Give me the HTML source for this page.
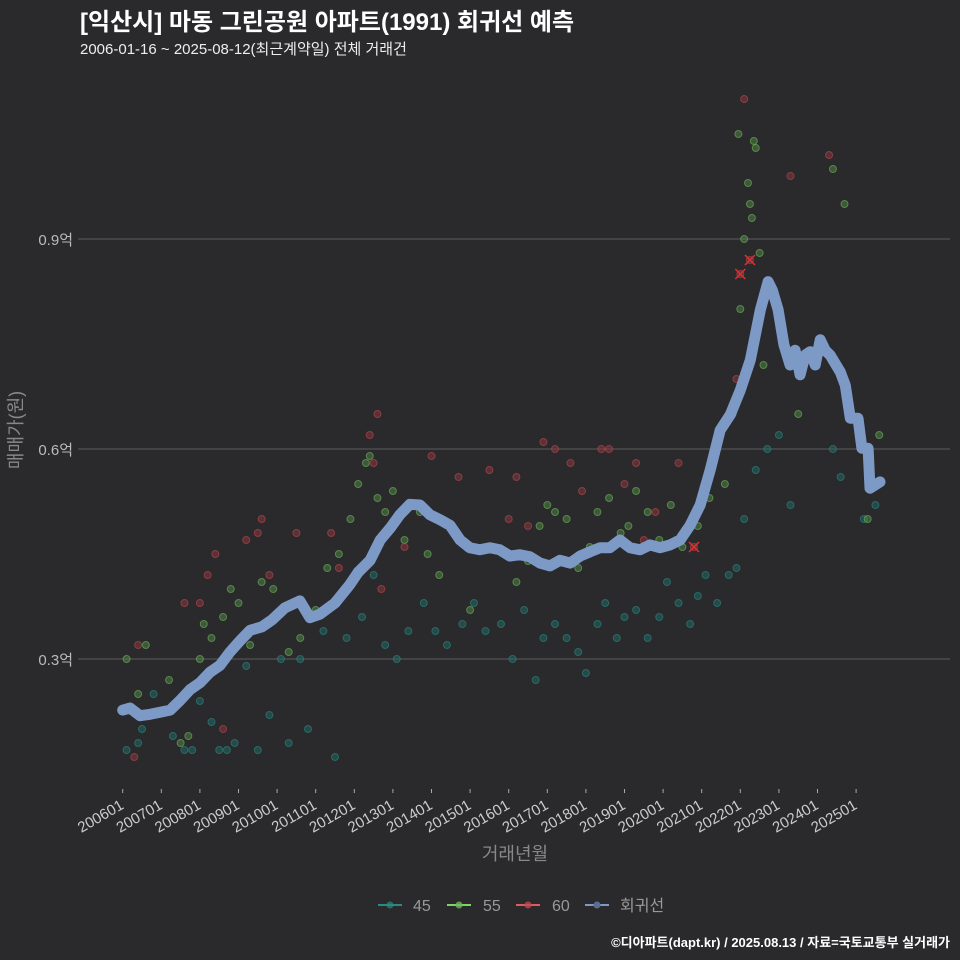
<!DOCTYPE html>
<html><head><meta charset="utf-8"><style>
body{margin:0;background:#2a292c;}
svg{display:block;font-family:"Liberation Sans","Noto Sans CJK KR",sans-serif;}
</style></head><body>
<svg id="chart" width="960" height="960" viewBox="0 0 960 960">
<rect width="960" height="960" fill="#2a292c"/>
<text x="80" y="30" fill="#fff" font-size="24" font-weight="bold">[익산시] 마동 그린공원 아파트(1991) 회귀선 예측</text>
<text x="80" y="54" fill="#eee" font-size="15">2006-01-16 ~ 2025-08-12(최근계약일) 전체 거래건</text>
<g id="grid"></g>
<g id="pts"></g>
<g id="trend"></g>
<g id="xaxis"></g>
<text transform="translate(22,430) rotate(-90)" text-anchor="middle" fill="#888" font-size="18">매매가(원)</text>
<text x="515" y="860" text-anchor="middle" fill="#888" font-size="18">거래년월</text>
<g>
<g><line x1="378" y1="905" x2="402" y2="905" stroke="#2a8a82" stroke-width="2"/><circle cx="390" cy="905" r="3.5" fill="#2a8a82" opacity="0.7"/><text x="413" y="911" fill="#999" font-size="16">45</text></g>
<g><line x1="447" y1="905" x2="471" y2="905" stroke="#7ed36a" stroke-width="2"/><circle cx="459" cy="905" r="3.5" fill="#6fb85a" opacity="0.8"/><text x="483" y="911" fill="#999" font-size="16">55</text></g>
<g><line x1="516" y1="905" x2="540" y2="905" stroke="#e05a60" stroke-width="2"/><circle cx="528" cy="905" r="3.5" fill="#c04850" opacity="0.8"/><text x="552" y="911" fill="#999" font-size="16">60</text></g>
<g><line x1="585" y1="905" x2="609" y2="905" stroke="#7d9ac6" stroke-width="2"/><circle cx="597" cy="905" r="3.5" fill="#5a6e90"/><text x="620" y="911" fill="#999" font-size="16">회귀선</text></g>
</g>
<text x="950" y="947" text-anchor="end" fill="#fff" font-size="13" font-weight="bold">©디아파트(dapt.kr) / 2025.08.13 / 자료=국토교통부 실거래가</text>
</svg>
<script>
const yTicks=[0.3,0.6,0.9];
const xTickYears=[2006,2007,2008,2009,2010,2011,2012,2013,2014,2015,2016,2017,2018,2019,2020,2021,2022,2023,2024,2025];
const trendX=[2006.0,2006.19,2006.45,2006.71,2006.97,2007.23,2007.49,2007.74,2008.0,2008.26,2008.52,2008.78,2009.04,2009.3,2009.61,2009.87,2010.2,2010.59,2010.85,2011.11,2011.5,2011.88,2012.1,2012.41,2012.67,2012.93,2013.18,2013.44,2013.7,2013.96,2014.22,2014.48,2014.74,2014.99,2015.25,2015.51,2015.77,2016.03,2016.29,2016.55,2016.81,2017.07,2017.33,2017.59,2017.85,2018.1,2018.37,2018.62,2018.88,2019.14,2019.4,2019.66,2019.92,2020.18,2020.44,2020.7,2020.96,2021.22,2021.48,2021.74,2022.0,2022.26,2022.52,2022.72,2022.83,2022.98,2023.13,2023.29,2023.42,2023.55,2023.68,2023.81,2023.94,2024.07,2024.2,2024.33,2024.59,2024.72,2024.85,2025.05,2025.15,2025.31,2025.36,2025.62];
const trendV=[0.227,0.23,0.219,0.221,0.224,0.227,0.241,0.256,0.266,0.281,0.291,0.31,0.326,0.341,0.346,0.356,0.373,0.383,0.359,0.364,0.38,0.406,0.424,0.441,0.47,0.487,0.506,0.521,0.52,0.506,0.499,0.491,0.47,0.459,0.456,0.459,0.456,0.447,0.449,0.446,0.437,0.433,0.441,0.437,0.447,0.453,0.459,0.459,0.47,0.459,0.456,0.463,0.459,0.463,0.47,0.491,0.52,0.57,0.627,0.649,0.684,0.727,0.799,0.839,0.827,0.799,0.749,0.72,0.741,0.706,0.734,0.739,0.72,0.756,0.741,0.734,0.71,0.691,0.644,0.644,0.601,0.601,0.544,0.553];
const s45=[[2006.1,0.17],[2006.4,0.18],[2006.5,0.2],[2006.8,0.25],[2007.3,0.19],[2007.6,0.17],[2007.8,0.17],[2008.0,0.24],[2008.3,0.21],[2008.5,0.17],[2008.7,0.17],[2008.9,0.18],[2009.2,0.29],[2009.5,0.17],[2009.8,0.22],[2010.1,0.3],[2010.3,0.18],[2010.6,0.3],[2010.8,0.2],[2011.2,0.34],[2011.5,0.16],[2011.8,0.33],[2012.2,0.36],[2012.5,0.42],[2012.8,0.32],[2013.1,0.3],[2013.4,0.34],[2013.8,0.38],[2014.1,0.34],[2014.4,0.32],[2014.8,0.35],[2015.1,0.38],[2015.4,0.34],[2015.8,0.35],[2016.1,0.3],[2016.4,0.37],[2016.7,0.27],[2016.9,0.33],[2017.2,0.35],[2017.5,0.33],[2017.8,0.31],[2018.0,0.28],[2018.3,0.35],[2018.5,0.38],[2018.8,0.33],[2019.0,0.36],[2019.3,0.37],[2019.6,0.33],[2019.9,0.36],[2020.1,0.41],[2020.4,0.38],[2020.7,0.35],[2020.9,0.39],[2021.1,0.42],[2021.4,0.38],[2021.7,0.42],[2021.9,0.43],[2022.1,0.5],[2022.4,0.57],[2022.7,0.6],[2023.0,0.62],[2023.3,0.52],[2024.4,0.6],[2024.6,0.56],[2025.2,0.5],[2025.5,0.52]];
const s55=[[2006.1,0.3],[2006.4,0.25],[2006.6,0.32],[2007.2,0.27],[2007.5,0.18],[2007.7,0.19],[2008.0,0.3],[2008.1,0.35],[2008.3,0.33],[2008.6,0.36],[2008.8,0.4],[2009.0,0.38],[2009.3,0.32],[2009.6,0.41],[2009.9,0.4],[2010.3,0.31],[2010.6,0.33],[2011.0,0.37],[2011.3,0.43],[2011.6,0.45],[2011.9,0.5],[2012.1,0.55],[2012.3,0.58],[2012.4,0.59],[2012.6,0.53],[2012.8,0.51],[2013.0,0.54],[2013.3,0.47],[2013.7,0.51],[2013.9,0.45],[2014.2,0.42],[2015.0,0.37],[2016.2,0.41],[2016.5,0.44],[2016.8,0.49],[2017.0,0.52],[2017.2,0.51],[2017.5,0.5],[2017.8,0.43],[2018.1,0.46],[2018.3,0.51],[2018.6,0.53],[2018.9,0.48],[2019.1,0.49],[2019.3,0.54],[2019.6,0.51],[2019.9,0.47],[2020.2,0.52],[2020.5,0.46],[2020.9,0.49],[2021.2,0.53],[2021.4,0.6],[2021.6,0.55],[2021.8,0.65],[2022.0,0.8],[2022.1,0.9],[2022.2,0.98],[2022.25,0.95],[2022.3,0.93],[2022.35,1.04],[2022.5,0.88],[2022.4,1.03],[2021.95,1.05],[2022.6,0.72],[2024.7,0.95],[2024.4,1.0],[2023.5,0.65],[2025.3,0.5],[2025.6,0.62]];
const s60=[[2006.3,0.16],[2006.4,0.32],[2007.6,0.38],[2008.0,0.38],[2008.2,0.42],[2008.4,0.45],[2008.6,0.2],[2009.2,0.47],[2009.5,0.48],[2009.6,0.5],[2009.8,0.42],[2010.5,0.48],[2011.4,0.48],[2011.6,0.43],[2012.4,0.62],[2012.6,0.65],[2012.5,0.58],[2012.7,0.4],[2013.3,0.46],[2014.0,0.59],[2014.7,0.56],[2015.5,0.57],[2016.0,0.5],[2016.2,0.56],[2016.5,0.49],[2016.9,0.61],[2017.2,0.6],[2017.6,0.58],[2017.9,0.54],[2018.4,0.6],[2018.6,0.6],[2019.0,0.55],[2019.3,0.58],[2019.5,0.47],[2019.8,0.51],[2020.4,0.58],[2020.8,0.46],[2021.9,0.7],[2022.0,0.85],[2022.25,0.87],[2023.3,0.99],[2024.3,1.02],[2022.1,1.1]];
const highlights=[[2022.0,0.85],[2022.25,0.87],[2020.8,0.46]];

const NS="http://www.w3.org/2000/svg";
function xS(y){return 122.7+(y-2006)*38.6;}
function yS(v){return 869-v*700;}
function mk(tag,attrs,parent){const e=document.createElementNS(NS,tag);for(const k in attrs)e.setAttribute(k,attrs[k]);parent.appendChild(e);return e;}
const grid=document.getElementById('grid');
yTicks.forEach(t=>{
  const l=mk('line',{x1:78,x2:950,y1:yS(t),y2:yS(t),stroke:'#5c5c5c','stroke-width':1},grid);
  
  
  const tx=mk('text',{x:73,y:yS(t)+6,'text-anchor':'end',fill:'#bbb','font-size':15},grid);
  tx.textContent=t.toFixed(1)+'억';
  
  
});
const xa=document.getElementById('xaxis');
xTickYears.forEach(y=>{
  const x=xS(y);
  const tk=mk('line',{x1:x,x2:x,y1:789,y2:793,stroke:'#aaa','stroke-width':1},xa);
  
  
  const tx=mk('text',{transform:`translate(${x+2},${808}) rotate(-30)`,'text-anchor':'end',fill:'#ccc','font-size':15},xa);
  tx.textContent=y+'01';
  
  
});
const pts=document.getElementById('pts');
function drawSeries(arr,fill,stroke,name){
  arr.forEach(p=>{
    const c=mk('circle',{cx:xS(p[0]),cy:yS(p[1]),r:3.5,fill:fill,stroke:stroke,'stroke-width':1,'fill-opacity':0.5,'stroke-opacity':0.6},pts);
    
    
  });
}
drawSeries(s45,'#1f6b66','#2a8a82','point-45');
drawSeries(s55,'#4f8a45','#6fb85a','point-55');
drawSeries(s60,'#8a3a3e','#c04850','point-60');
highlights.forEach(p=>{
  const g=mk('g',{},pts);
  
  
  const x=xS(p[0]),y=yS(p[1]);
  mk('path',{d:`M${x-5},${y-5}L${x+5},${y+5}M${x-5},${y+5}L${x+5},${y-5}`,stroke:'#e03030','stroke-width':1.5},g);
});
const tr=document.getElementById('trend');
let d='';
trendX.forEach((x,i)=>{d+=(i?'L':'M')+xS(x).toFixed(1)+','+yS(trendV[i]).toFixed(1);});
const path=mk('path',{d:d,fill:'none',stroke:'#7d9ac6','stroke-width':11,'stroke-linejoin':'round','stroke-linecap':'round'},tr);


</script>
</body></html>
